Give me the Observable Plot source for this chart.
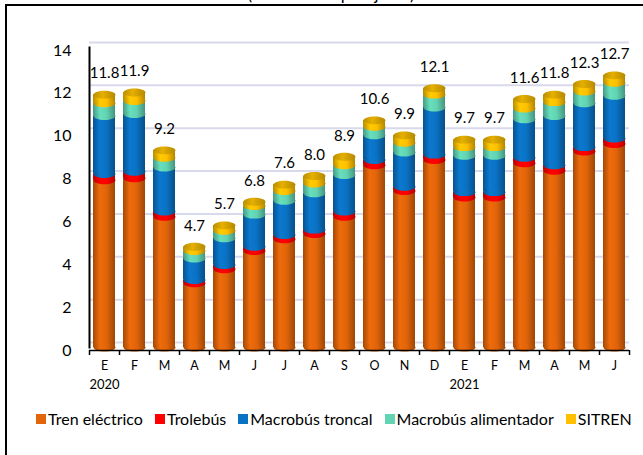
<!DOCTYPE html>
<html><head><meta charset="utf-8">
<script src="https://cdn.jsdelivr.net/npm/d3@7"></script>
<script src="https://cdn.jsdelivr.net/npm/@observablehq/plot@0.6"></script>
<style>
html,body{margin:0;padding:0;background:#fff}
body{font-family:Lato,"Open Sans",sans-serif;overflow:hidden;width:643px;height:455px;position:relative}
#frame{position:absolute;left:5px;top:4px;width:700px;height:500px;border:2px solid #000;box-sizing:border-box}
#title{position:absolute;left:0;width:662px;top:-15px;text-align:center;font-size:17px;line-height:17px;color:#000}
#chart{position:absolute;left:0;top:0}
#legend{position:absolute;left:36px;top:409px;font-size:16px;line-height:20px;display:flex;white-space:nowrap;color:#000}
#legend .item{display:flex;align-items:center;margin-right:12px}
#legend .sw{width:10px;height:10px;margin-right:2px}
</style>
</head><body>
<div id="frame"></div>
<div id="title">(millones de pasajeros)</div>
<div id="chart"></div>
<div id="legend"></div>
<script>
const monthLabels = ["E","F","M","A","M","J","J","A","S","O","N","D","E","F","M","A","M","J"];
const yearLabels  = ["2020","","","","","","","","","","","","2021","","","","",""];
const series = ["Tren eléctrico","Trolebús","Macrobús troncal","Macrobús alimentador","SITREN"];
const colors = ["#E2650A","#FF0000","#0A72C4","#62D3B3","#FFC000"];
const tren        = [7.8,7.9,6.1,3.0,3.65,4.5,5.05,5.3,6.1,8.5,7.3,8.75,7.0,7.0,8.6,8.25,9.15,9.5];
const trolebus    = [0.3,0.3,0.25,0.15,0.2,0.2,0.2,0.2,0.25,0.25,0.2,0.25,0.25,0.25,0.25,0.25,0.2,0.25];
const troncal     = [2.7,2.7,2.05,1.0,1.25,1.5,1.6,1.7,1.7,1.15,1.6,2.2,1.7,1.7,1.8,2.3,2.05,2.0];
const alimentador = [0.6,0.6,0.45,0.35,0.35,0.4,0.45,0.45,0.45,0.4,0.45,0.6,0.4,0.4,0.5,0.65,0.55,0.6];
const sitren      = [0.4,0.4,0.35,0.2,0.25,0.2,0.3,0.35,0.4,0.3,0.35,0.3,0.35,0.35,0.45,0.35,0.35,0.35];
const yTicks = [0,2,4,6,8,10,12,14];

const values = [tren, trolebus, troncal, alimentador, sitren];

// gradients for cylinder shading
const defs = d3.select("body").append("svg").attr("width",0).attr("height",0)
  .style("position","absolute").append("defs");
function addGrad(id, base, stops){
  const g = defs.append("linearGradient").attr("id", id).attr("x1","0").attr("x2","1").attr("y1","0").attr("y2","0");
  stops.forEach(([o, f]) => g.append("stop").attr("offset", o).attr("stop-color", f(d3.color(base)).formatHex()));
}
colors.forEach((c, i) => addGrad("g"+i, c, [
  [0, c => c.darker(0.9)], [0.3, c => c.brighter(0.15)], [0.6, c => c], [1, c => c.darker(1.0)]
]));
addGrad("gcap", "#D6A400", [[0, c => c.darker(0.4)], [0.4, c => c.brighter(0.2)], [1, c => c.darker(0.5)]]);

// stacked rows
const rows = [];
const totals = [];
monthLabels.forEach((m, i) => {
  let acc = 0;
  values.forEach((arr, s) => {
    rows.push({i, s, y1: acc, y2: acc + arr[i]});
    acc += arr[i];
  });
  totals.push({i, total: acc});
});

const ellipse = {
  draw(ctx, size){
    const rx = Math.sqrt(size / Math.PI), ry = rx * 0.36, k = 0.5523;
    ctx.moveTo(rx, 0);
    ctx.bezierCurveTo(rx, ry*k, rx*k, ry, 0, ry);
    ctx.bezierCurveTo(-rx*k, ry, -rx, ry*k, -rx, 0);
    ctx.bezierCurveTo(-rx, -ry*k, -rx*k, -ry, 0, -ry);
    ctx.bezierCurveTo(rx*k, -ry, rx, -ry*k, rx, 0);
    ctx.closePath();
  }
};

const idx = d3.range(monthLabels.length);
const plot = Plot.plot({
  width: 643, height: 400,
  marginLeft: 89, marginRight: 14, marginTop: 47, marginBottom: 53,
  style: {fontFamily: "Lato, 'Open Sans', sans-serif", color: "#000", background: "transparent"},
  x: {type: "band", domain: idx, paddingInner: 0.27, paddingOuter: 0.135, label: null, axis: null},
  y: {domain: [0, 14], label: null, axis: null},
  color: {type: "identity"},
  marks: [
    Plot.ruleY(yTicks, {stroke: "#D9D9EC", strokeWidth: 2, dy: -5}),
    Plot.barY(rows, {x: "i", y1: "y1", y2: "y2", fill: d => `url(#g${d.s})`}),
    Plot.dot(rows, {x: "i", y: "y1", r: 11, symbol: ellipse, fill: d => `url(#g${d.s})`, stroke: "none"}),
    Plot.dot(totals, {x: "i", y: "total", r: 11, symbol: ellipse, fill: () => "url(#gcap)", stroke: "none"}),
    Plot.text(totals, {x: "i", y: "total", text: d => d.total.toFixed(1), dy: -21, fontSize: 15, fill: "#000"}),
    Plot.ruleY([0], {stroke: "#000", strokeWidth: 1.5, dy: 3}),
    Plot.frame({anchor: "left", stroke: "#000", strokeWidth: 2}),
    Plot.axisY({ticks: yTicks, tickSize: 0, tickPadding: 18, fontSize: 16, dy: 3}),
    Plot.axisX({tickSize: 0, tickPadding: 14, fontSize: 12.5, tickFormat: i => monthLabels[i]}),
    Plot.axisX({ticks: idx.filter(i => yearLabels[i] !== ""), tickSize: 0, tickPadding: 32, fontSize: 13, tickFormat: i => yearLabels[i]}),
    Plot.axisX({tickSize: 5, dx: -15, dy: 3, stroke: "#000", strokeWidth: 1.5, tickFormat: () => ""}),
    Plot.axisX({ticks: [idx[idx.length - 1]], tickSize: 5, dx: 15, dy: 3, stroke: "#000", strokeWidth: 1.5, tickFormat: () => ""})
  ]
});
document.getElementById("chart").appendChild(plot);

// legend
const lg = d3.select("#legend");
series.forEach((name, i) => {
  const it = lg.append("div").attr("class", "item");
  it.append("div").attr("class", "sw").style("background", colors[i]);
  it.append("span").text(name);
});
</script>
</body></html>
